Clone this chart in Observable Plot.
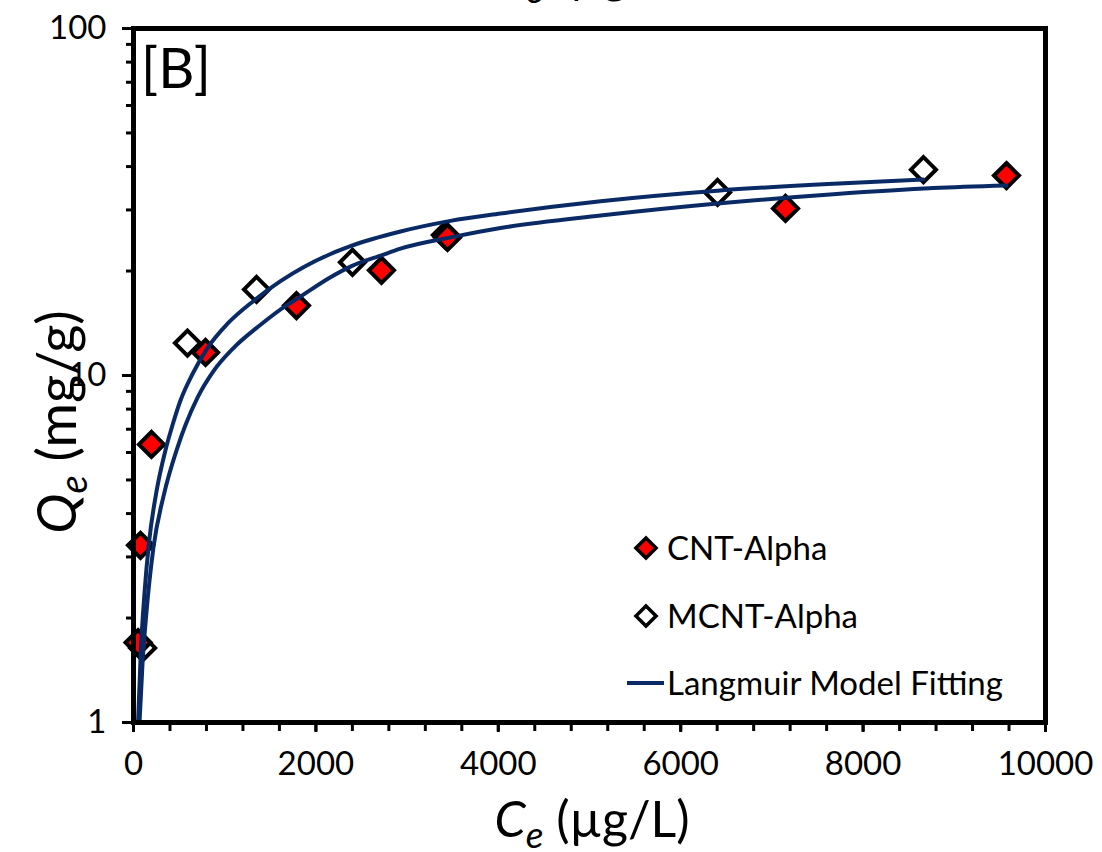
<!DOCTYPE html>
<html><head><meta charset="utf-8">
<script src="https://cdn.jsdelivr.net/npm/d3@7"></script>
<script src="https://cdn.jsdelivr.net/npm/@observablehq/plot@0.6"></script>
<style>
body{margin:0;background:#fff;}
#wrap{position:relative;width:1102px;height:852px;overflow:hidden;}
svg{display:block;}
</style></head><body><div id="wrap"></div>
<script>
// ---- data ----
const seriesNames = ["CNT-Alpha", "MCNT-Alpha", "Langmuir Model Fitting"];
const cntC = [50, 77, 197, 790, 1787, 2719, 3443, 7149, 9572];
const cntQ = [1.70, 3.24, 6.33, 11.65, 15.9, 20.1, 25.0, 30.3, 37.7];
const mcntC = [100, 592, 1349, 2401, 3420, 6404, 8662];
const mcntQ = [1.64, 12.4, 17.7, 21.2, 25.4, 33.7, 39.2];
// Langmuir fit curves
const fitMcntC = [50, 80, 120, 170, 250, 351, 428, 515, 647, 811, 1031, 1316, 1612, 2160, 2379, 2928, 3476, 4024, 5121, 6404, 7675, 8662];
const fitMcntQ = [1.00, 1.60, 2.35, 3.30, 4.60, 6.10, 7.20, 8.47, 10.1, 12.0, 14.1, 16.4, 18.7, 22.4, 23.6, 26.0, 27.9, 29.3, 31.8, 34.1, 35.7, 36.7];
const fitCntC = [66, 100, 140, 219, 330, 482, 570, 702, 877, 1096, 1393, 1689, 1787, 2160, 2379, 2719, 2928, 3476, 4024, 5121, 6404, 7675, 8772, 9572];
const fitCntQ = [1.00, 1.50, 2.05, 3.20, 4.50, 6.20, 7.20, 8.64, 10.3, 12.0, 14.0, 16.0, 16.6, 19.2, 20.6, 22.2, 23.2, 25.0, 26.6, 28.9, 31.3, 33.3, 34.7, 35.3];
const xMajorTicks = [0, 2000, 4000, 6000, 8000, 10000];
const xMinorTicks = [0,400,800,1200,1600,2000,2400,2800,3200,3600,4000,4400,4800,5200,5600,6000,6400,6800,7200,7600,8000,8400,8800,9200,9600,10000];
const yMajorTicks = [1, 10, 100];
const yMinorTicks = [2,3,4,5,6,7,8,9,20,30,40,50,60,70,80,90];

const cnt = cntC.map((c, i) => ({C: c, Q: cntQ[i]}));
const mcnt = mcntC.map((c, i) => ({C: c, Q: mcntQ[i]}));
const fitM = fitMcntC.map((c, i) => ({C: c, Q: fitMcntQ[i]}));
const fitC = fitCntC.map((c, i) => ({C: c, Q: fitCntQ[i]}));

const navy = "#0a2a66";
const FONT = "Lato, 'Open Sans', sans-serif";

const plot = Plot.plot({
  width: 1102, height: 852,
  marginLeft: 133, marginRight: 57, marginTop: 28, marginBottom: 130,
  style: {fontFamily: FONT, fontSize: "33px", color: "#000", background: "#fff", overflow: "hidden"},
  x: {domain: [0, 10000], label: null},
  y: {type: "log", domain: [1, 100], label: null},
  marks: [
    Plot.dot(mcnt, {x: "C", y: "Q", symbol: "diamond2", r: 11.3, fill: "white", stroke: "black", strokeWidth: 4}),
    Plot.dot(cnt, {x: "C", y: "Q", symbol: "diamond2", r: 11.3, fill: "#ff0000", stroke: "black", strokeWidth: 4}),
    Plot.line(fitM, {x: "C", y: "Q", stroke: navy, strokeWidth: 4, curve: "monotone-x"}),
    Plot.line(fitC, {x: "C", y: "Q", stroke: navy, strokeWidth: 4, curve: "monotone-x"}),
    Plot.axisX({ticks: xMinorTicks, tickSize: 9, strokeWidth: 3, tickFormat: () => "", label: null}),
    Plot.axisX({ticks: xMajorTicks, tickSize: 10, strokeWidth: 3, tickPadding: 19, fontSize: 33, tickFormat: d3.format("d"), label: null}),
    Plot.axisY({ticks: yMinorTicks, tickSize: 7, strokeWidth: 3, tickFormat: () => "", label: null}),
    Plot.axisY({ticks: yMajorTicks, tickSize: 11, strokeWidth: 3, tickPadding: 16, fontSize: 33, tickFormat: d3.format("d"), label: null}),
    Plot.frame({stroke: "black", strokeWidth: 5})
  ]
});
document.getElementById("wrap").appendChild(plot);

const svg = d3.select(plot);
const cx = (133 + 1045) / 2;

function richLabel(g, sizeSub) {
  g.append("tspan").attr("font-style", "italic").text("C");
  g.append("tspan").attr("font-style", "italic").attr("font-size", sizeSub).attr("dy", 11).text("e");
  g.append("tspan").attr("dy", -11).text(" (µg/L)");
}
// clipped title fragment at the top
const topTitle = svg.append("text").attr("x", cx + 3).attr("y", -8).attr("text-anchor", "middle")
  .attr("font-family", FONT).attr("font-size", 50).attr("fill", "#000");
richLabel(topTitle, 37);

// x label
const xl = svg.append("text").attr("x", cx + 3).attr("y", 837).attr("text-anchor", "middle")
  .attr("font-family", FONT).attr("font-size", 50).attr("fill", "#000");
richLabel(xl, 37);

// y label
const yl = svg.append("text").attr("transform", "translate(76,422) rotate(-90)").attr("text-anchor", "middle")
  .attr("font-family", FONT).attr("font-size", 54).attr("fill", "#000");
yl.append("tspan").attr("font-style", "italic").text("Q");
yl.append("tspan").attr("font-style", "italic").attr("font-size", 38).attr("dy", 11).text("e");
yl.append("tspan").attr("dy", -11).text(" (mg/g)");

// panel tag
svg.append("text").attr("x", 141).attr("y", 88).attr("text-anchor", "start").attr("font-family", FONT)
  .attr("font-size", 56).attr("fill", "#000").text("[B]");

// legend
const lg = svg.append("g").attr("font-family", FONT).attr("font-size", 33).attr("fill", "#000").attr("text-anchor", "start");
const dia = d3.symbol(d3.symbolDiamond2, 260)();
lg.append("path").attr("d", dia).attr("transform", "translate(646,548)").attr("fill", "#ff0000").attr("stroke", "black").attr("stroke-width", 3.5);
lg.append("text").attr("x", 667).attr("y", 560).text(seriesNames[0]);
lg.append("path").attr("d", dia).attr("transform", "translate(646,616)").attr("fill", "white").attr("stroke", "black").attr("stroke-width", 3.5);
lg.append("text").attr("x", 667).attr("y", 628).text(seriesNames[1]);
lg.append("line").attr("x1", 627).attr("x2", 664).attr("y1", 683).attr("y2", 683).attr("stroke", navy).attr("stroke-width", 4);
lg.append("text").attr("x", 667).attr("y", 695).text(seriesNames[2]);
</script>
</body></html>
